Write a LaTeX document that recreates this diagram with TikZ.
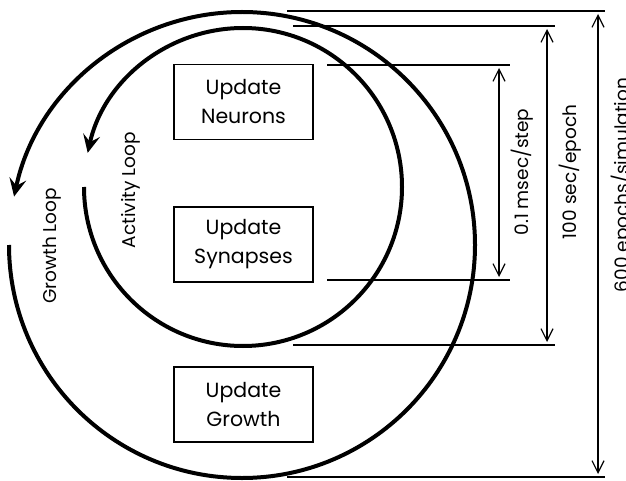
\documentclass[tikz,border=0pt]{standalone}
\usepackage{fontspec}
\setmainfont{Poppins}
\usetikzlibrary{arrows.meta}
\begin{document}
\begin{tikzpicture}[x=1pt,y=1pt,
  loopline/.style={line width=4pt,-{Stealth[length=18pt,width=17pt,inset=7pt]}},
  dimline/.style={line width=1.2pt},
  dimarrow/.style={line width=1.2pt,{Straight Barb[length=12pt,width=12pt]}-{Straight Barb[length=12pt,width=12pt]}},
  boxnode/.style={draw,line width=1.3pt,minimum width=139pt,minimum height=75pt,align=center,inner sep=0pt,font=\fontsize{20.5}{29}\selectfont},
  lbl/.style={rotate=90,font=\fontsize{18.5}{22}\selectfont,inner sep=0pt}]
\useasboundingbox (0,0) rectangle (626,480);
\clip (0,0) rectangle (626,480);
% boxes
\node[boxnode] (neu) at (243.5,378) {Update\\Neurons};
\node[boxnode] (syn) at (243.5,235.5) {Update\\Synapses};
\node[boxnode] (gro) at (243.5,75.5) {Update\\Growth};
% loops
\draw[loopline] (243,293) ++(180:159) arc[start angle=180,end angle=527.6,radius=159];
\draw[loopline] (242,235) ++(180:233) arc[start angle=180,end angle=528,radius=233];
% loop labels
\node[lbl] (al) at (131,290) {Activity Loop};
\node[lbl] (gl) at (52,234) {Growth Loop};
% dimension lines
\coordinate (l1a) at (287,469); \coordinate (l1b) at (605,469);
\coordinate (l2a) at (293,454); \coordinate (l2b) at (555,454);
\coordinate (l3a) at (327,415); \coordinate (l3b) at (510,415);
\coordinate (l4a) at (327,200); \coordinate (l4b) at (510,200);
\coordinate (l5a) at (293,135); \coordinate (l5b) at (555,135);
\coordinate (l6a) at (287,3);   \coordinate (l6b) at (605,3);
\draw[dimline] (l1a) -- (l1b);
\draw[dimline] (l2a) -- (l2b);
\draw[dimline] (l3a) -- (l3b);
\draw[dimline] (l4a) -- (l4b);
\draw[dimline] (l5a) -- (l5b);
\draw[dimline] (l6a) -- (l6b);
\coordinate (a1t) at (499,412); \coordinate (a1b) at (499,203);
\coordinate (a2t) at (547,451); \coordinate (a2b) at (547,138);
\coordinate (a3t) at (598,466); \coordinate (a3b) at (598,6);
\draw[dimarrow] (a1b) -- (a1t);
\draw[dimarrow] (a2b) -- (a2t);
\draw[dimarrow] (a3b) -- (a3t);
\node[lbl] (t1) at (522,308) {0.1 msec/step};
\node[lbl] (t2) at (570,308) {100 sec/epoch};
\node[lbl] (t3) at (622,295) {600 epochs/simulation};
\end{tikzpicture}
\end{document}
